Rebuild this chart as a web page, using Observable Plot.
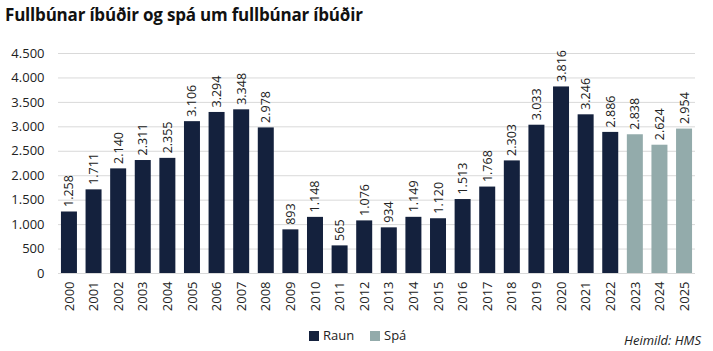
<!DOCTYPE html>
<html><head><meta charset="utf-8">
<script src="https://cdn.jsdelivr.net/npm/d3@7"></script>
<script src="https://cdn.jsdelivr.net/npm/@observablehq/plot@0.6"></script>
<style>
body{margin:0;background:#fff;font-family:"Open Sans",sans-serif;width:713px;height:351px;overflow:hidden;}
#title{font-weight:700;font-size:17px;color:#111;padding:4px 0 0 5px;height:24px;line-height:22px;letter-spacing:-0.2px}
#foot{position:relative;height:24px;font-size:13px;color:#222}
.sw{display:inline-block;width:10px;height:10px;margin-right:4px;vertical-align:-1px}
</style></head><body>
<div id="title">Fullbúnar íbúðir og spá um fullbúnar íbúðir</div>
<div id="chart"></div>
<div id="foot">
 <span style="position:absolute;left:309px;top:-2px"><span class="sw" style="background:#14213d"></span>Raun</span>
 <span style="position:absolute;left:370px;top:-2px"><span class="sw" style="background:#93abab"></span>Spá</span>
 <span style="position:absolute;right:12px;top:3px;font-style:italic">Heimild: HMS</span>
</div>
<script>
const years = ["2000","2001","2002","2003","2004","2005","2006","2007","2008","2009","2010","2011","2012","2013","2014","2015","2016","2017","2018","2019","2020","2021","2022","2023","2024","2025"];
const values = [1258,1711,2140,2311,2355,3106,3294,3348,2978,893,1148,565,1076,934,1149,1120,1513,1768,2303,3033,3816,3246,2886,2838,2624,2954];
const types = ["Raun","Raun","Raun","Raun","Raun","Raun","Raun","Raun","Raun","Raun","Raun","Raun","Raun","Raun","Raun","Raun","Raun","Raun","Raun","Raun","Raun","Raun","Raun","Spá","Spá","Spá"];
const yTicks = [0,500,1000,1500,2000,2500,3000,3500,4000,4500];

const data = years.map((y,i)=>({year:y,value:values[i],type:types[i]}));
const loc = d3.formatLocale({decimal:",",thousands:".",grouping:[3],currency:["",""]});
const fmt = loc.format(",d");

const chart = Plot.plot({
  width:713, height:300,
  marginLeft:58, marginRight:18, marginTop:25, marginBottom:55,
  style:{fontFamily:"Open Sans, sans-serif", fontSize:"13px", color:"#222", background:"#fff"},
  x:{domain:years, paddingInner:0.35, paddingOuter:0.12, round:false, label:null, tickSize:0, tickRotate:-90, tickPadding:8},
  y:{domain:[0,4500], ticks:yTicks, tickFormat:fmt, label:null, tickSize:0, tickPadding:14},
  color:{domain:["Raun","Spá"], range:["#14213d","#93abab"]},
  marks:[
    Plot.ruleY(yTicks,{stroke:"#d9d9d9", strokeWidth:1}),
    Plot.barY(data,{x:"year", y:"value", fill:"type"}),
    Plot.text(data,{x:"year", y:"value", text:d=>fmt(d.value), rotate:-90, textAnchor:"start", dy:-5, fontSize:12.5, fill:"#222"})
  ]
});
document.getElementById("chart").appendChild(chart);
</script>
</body></html>
